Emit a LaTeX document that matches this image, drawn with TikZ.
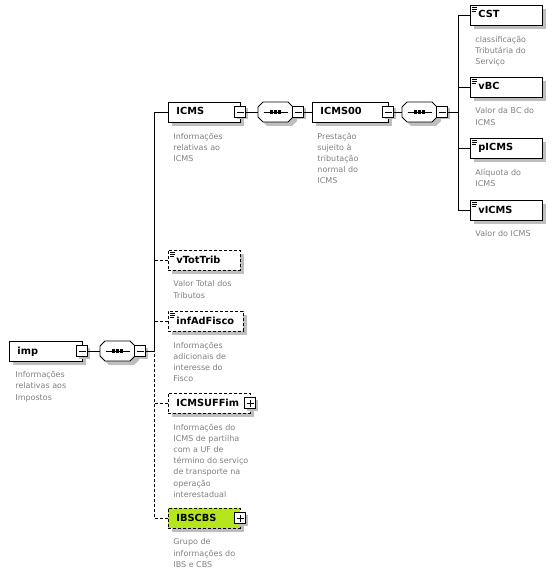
\documentclass[tikz,border=0pt]{standalone}
\usepackage{fontspec}
\setmainfont{DejaVu Sans}
\usepackage{xcolor}
\definecolor{descgray}{HTML}{808080}
\definecolor{shadowgray}{HTML}{BEBEBE}
\definecolor{ibslime}{HTML}{B5E61D}
\usetikzlibrary{shadows,calc}

\begin{document}
\begin{tikzpicture}[x=1pt, y=-1pt, line width=0.9pt,
      elem/.style={draw, fill=white, minimum height=20pt, inner xsep=8pt, inner ysep=0pt, text width=#1, align=left,
        text height=7.5pt, text depth=1.5pt, font=\fontsize{9.8}{11}\selectfont\bfseries, anchor=west,
        drop shadow={shadow xshift=4pt, shadow yshift=-4pt, fill=shadowgray, opacity=1}},
      opt/.style={dash pattern=on 3pt off 2pt},
      leaf/.style={path picture={\foreach \d/\l in {2.5pt/5pt,4.5pt/5pt,6.5pt/4pt}
          \draw[solid, line width=0.8pt] ([shift={(1.5pt,-\d)}]path picture bounding box.north west) -- ++(\l,0pt);}},
      ctrl/.style={draw, solid, fill=white, minimum size=11pt, inner sep=0pt,
        drop shadow={shadow xshift=2pt, shadow yshift=-2pt, fill=shadowgray, opacity=1}},
      collapse/.style={ctrl, path picture={\draw[solid] ([xshift=-3.5pt]path picture bounding box.center) -- ([xshift=3.5pt]path picture bounding box.center);}},
      expand/.style={ctrl, path picture={\draw[solid] ([xshift=-3.5pt]path picture bounding box.center) -- ([xshift=3.5pt]path picture bounding box.center)
          ([yshift=-3.5pt]path picture bounding box.center) -- ([yshift=3.5pt]path picture bounding box.center);}},
      seq/.style={minimum width=35pt, minimum height=20pt, inner sep=0pt},
      octagon/.style={insert path={++(-17.5pt,-5pt) -- ++(0pt,10pt) -- ++(5pt,5pt) -- ++(25pt,0pt) -- ++(5pt,-5pt)
          -- ++(0pt,-10pt) -- ++(-5pt,-5pt) -- ++(-25pt,0pt) -- cycle}},
      desc/.style={anchor=north west, inner sep=0pt, align=left, text=descgray, font=\fontsize{8}{11.2}\selectfont}
    ]
    \useasboundingbox (0,0) rectangle (556,580);
    % elements
    \node[elem=57pt] (imp) at (9,351) {imp};
    \node[elem=56pt] (ICMS) at (168,112) {ICMS};
    \node[elem=60pt] (ICMS00) at (312,112) {ICMS00};
    \node[elem=56pt, leaf] (CST) at (470,15) {CST};
    \node[elem=56pt, leaf] (vBC) at (470,87) {vBC};
    \node[elem=56pt, leaf] (pICMS) at (470,148) {pICMS};
    \node[elem=56pt, leaf] (vICMS) at (470,210) {vICMS};
    \node[elem=56pt, leaf, opt] (vTotTrib) at (168,260) {vTotTrib};
    \node[elem=59pt, leaf, opt] (infAdFisco) at (168,321) {infAdFisco};
    \node[elem=66pt, opt] (ICMSUFFim) at (168,403) {ICMSUFFim};
    \node[elem=56pt, opt, fill=ibslime] (IBSCBS) at (168,518) {IBSCBS};
    % sequence compositors
    \node[seq] (seqA) at (117.5,351) {};
    \node[seq] (seqB) at (275.5,112) {};
    \node[seq] (seqC) at (419.5,112) {};
    \foreach \q in {seqA,seqB,seqC} {
      \path (\q.center) coordinate (c);
      \fill[shadowgray] ([shift={(4pt,-4pt)}]c) [octagon];
      \draw[fill=white] (c) [octagon];
      \draw ([xshift=-12pt]c) -- ([xshift=12pt]c);
      \foreach \s in {-4.2pt,0pt,4.2pt} \fill ([shift={(\s-1.6pt,-1.6pt)}]c) rectangle ++(3.2pt,3.2pt);
    }
    % collapse / expand buttons
    \node[collapse] (imp-c) at (82,351) {};
    \node[collapse] (seqA-c) at (140,351) {};
    \node[collapse] (ICMS-c) at (240,112) {};
    \node[collapse] (seqB-c) at (298,112) {};
    \node[collapse] (ICMS00-c) at (388,112) {};
    \node[collapse] (seqC-c) at (442,112) {};
    \node[expand] (ICMSUFFim-c) at (250,403) {};
    \node[expand] (IBSCBS-c) at (240,518) {};
    % descriptions
    \node[desc] (imp-d) at ([xshift=6pt,yshift=-9.5pt]imp.south west) {Informações\\relativas aos\\Impostos};
    \node[desc] (ICMS-d) at ([xshift=5pt,yshift=-10pt]ICMS.south west) {Informações\\relativas ao\\ICMS};
    \node[desc] (ICMS00-d) at ([xshift=5pt,yshift=-10pt]ICMS00.south west) {Prestação\\sujeito à\\tributação\\normal do\\ICMS};
    \node[desc] (CST-d) at ([xshift=5pt,yshift=-10pt]CST.south west) {classificação\\Tributária do\\Serviço};
    \node[desc] (vBC-d) at ([xshift=5pt,yshift=-10pt]vBC.south west) {Valor da BC do\\ICMS};
    \node[desc] (pICMS-d) at ([xshift=5pt,yshift=-10pt]pICMS.south west) {Alíquota do\\ICMS};
    \node[desc] (vICMS-d) at ([xshift=5pt,yshift=-10pt]vICMS.south west) {Valor do ICMS};
    \node[desc] (vTotTrib-d) at ([xshift=5pt,yshift=-10pt]vTotTrib.south west) {Valor Total dos\\Tributos};
    \node[desc] (infAdFisco-d) at ([xshift=5pt,yshift=-10pt]infAdFisco.south west) {Informações\\adicionais de\\interesse do\\Fisco};
    \node[desc] (ICMSUFFim-d) at ([xshift=5pt,yshift=-10pt]ICMSUFFim.south west) {Informações do\\ICMS de partilha\\com a UF de\\término do serviço\\de transporte na\\operação\\interestadual};
    \node[desc] (IBSCBS-d) at ([xshift=5pt,yshift=-10pt]IBSCBS.south west) {Grupo de\\informações do\\IBS e CBS};
    % connectors
    \coordinate (spineA) at (154,351);
    \coordinate (spineC) at (458,112);
    \draw (imp-c.east) -- (seqA.west);
    \draw (seqA-c.east) -- (spineA);
    \draw (ICMS.west) -| (spineA);
    \draw[opt] (IBSCBS.west) -| (spineA);
    \foreach \n in {vTotTrib,infAdFisco,ICMSUFFim} { \draw[opt] (\n.west) -- (\n.west -| spineA); }
    \draw (ICMS-c.east) -- (seqB.west);
    \draw (seqB-c.east) -- (ICMS00.west);
    \draw (ICMS00-c.east) -- (seqC.west);
    \draw (seqC-c.east) -- (spineC);
    \draw (CST.west) -| (spineC);
    \draw (vICMS.west) -| (spineC);
    \foreach \n in {vBC,pICMS} { \draw (\n.west) -- (\n.west -| spineC); }
  \end{tikzpicture}
\end{document}
